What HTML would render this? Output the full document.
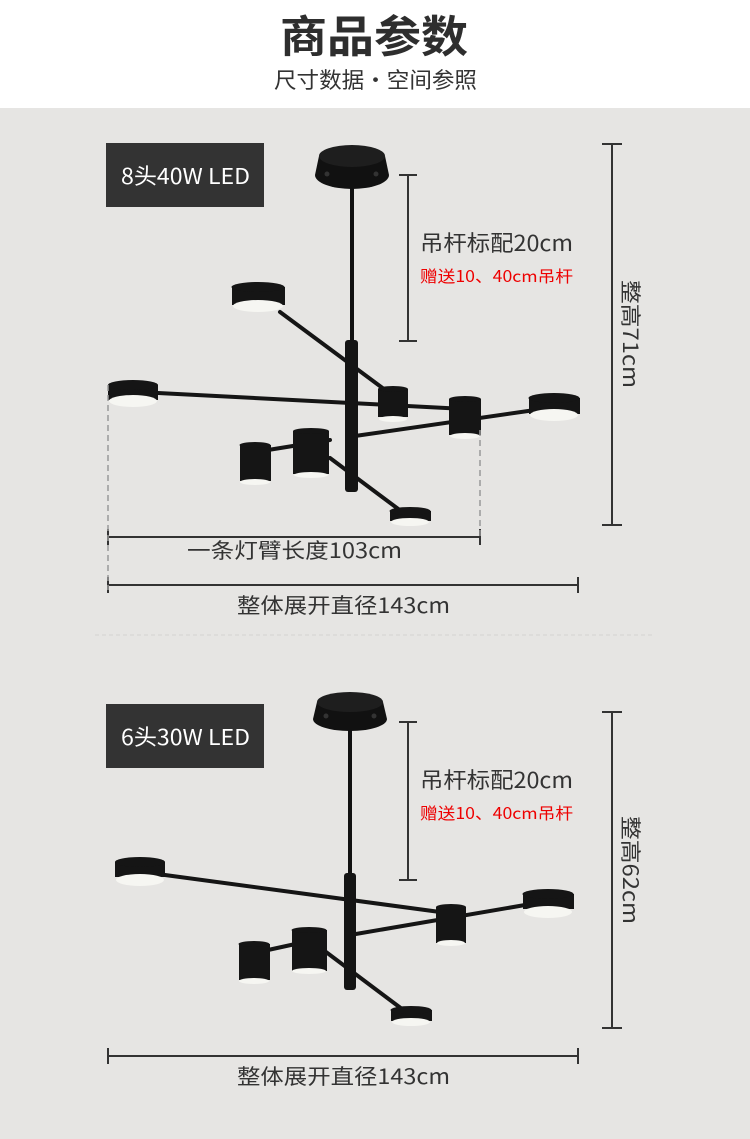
<!DOCTYPE html>
<html><head><meta charset="utf-8"><style>
html,body{margin:0;padding:0}
body{width:750px;height:1139px;background:#e6e5e3;position:relative;overflow:hidden;font-family:"Liberation Sans","Noto Sans CJK SC",sans-serif}
.top{position:absolute;left:0;top:0;width:750px;height:108px;background:#fff}
svg{position:absolute;left:0;top:0}
</style></head><body>
<div class="top"></div>
<svg width="750" height="1139" viewBox="0 0 750 1139">
<text x="280" y="52" textLength="188" lengthAdjust="spacingAndGlyphs" font-size="44" font-weight="bold" fill="#2e2e2e" font-family="Noto Sans CJK SC,sans-serif">商品参数</text>
<text x="274" y="88" textLength="203" lengthAdjust="spacingAndGlyphs" font-size="22" fill="#333" font-family="Noto Sans CJK SC,sans-serif">尺寸数据·空间参照</text>

<!-- ===== Lamp 1 ===== -->
<rect x="106" y="143" width="158" height="64" fill="#333"/>
<text x="121" y="184" textLength="129" lengthAdjust="spacingAndGlyphs" font-size="22" fill="#fff" font-family="Noto Sans CJK SC,sans-serif">8头40W LED</text>
<path d="M319 156 L385 156 L389 175 A37 14 0 0 1 315 175 Z" fill="#111"/>
<ellipse cx="352" cy="156" rx="33" ry="11" fill="#1e1e1e"/>
<circle cx="327" cy="174" r="2.5" fill="#333"/><circle cx="376" cy="174" r="2.5" fill="#333"/>
<rect x="350" y="172" width="4" height="170" fill="#111"/>
<g stroke="#151515" stroke-width="4" stroke-linecap="round">
<line x1="280" y1="312" x2="392" y2="395"/>
<line x1="158" y1="393" x2="465" y2="409"/>
<line x1="355" y1="436" x2="535" y2="410"/>
<line x1="268" y1="450" x2="330" y2="440"/>
<line x1="330" y1="458" x2="405" y2="514"/>
</g>
<rect x="345" y="340" width="13" height="152" rx="3" fill="#141414"/>
<g fill="#151515">
<rect x="232" y="287" width="53" height="18"/><ellipse cx="258" cy="287" rx="26.5" ry="5"/>
<rect x="108" y="385" width="50" height="15"/><ellipse cx="133" cy="385" rx="25" ry="5"/>
<rect x="529" y="398" width="51" height="16"/><ellipse cx="554" cy="398" rx="25.5" ry="5"/>
<rect x="390" y="511" width="41" height="10"/><ellipse cx="410" cy="511" rx="20.5" ry="4"/>
<rect x="378" y="389" width="30" height="28"/><ellipse cx="393" cy="389" rx="15" ry="3"/>
<rect x="449" y="399" width="32" height="36"/><ellipse cx="465" cy="399" rx="16" ry="3"/>
<rect x="293" y="431" width="36" height="43"/><ellipse cx="311" cy="431" rx="18" ry="3"/>
<rect x="240" y="445" width="31" height="36"/><ellipse cx="255" cy="445" rx="15.5" ry="3"/>
</g>
<g fill="#f6f6f2">
<ellipse cx="258" cy="306" rx="25" ry="6"/>
<ellipse cx="133" cy="401" rx="24" ry="6"/>
<ellipse cx="554" cy="415" rx="24" ry="6"/>
<ellipse cx="410" cy="522" rx="19" ry="4"/>
<ellipse cx="393" cy="419" rx="14" ry="3"/>
<ellipse cx="465" cy="436" rx="15" ry="3"/>
<ellipse cx="311" cy="475" rx="17" ry="3"/>
<ellipse cx="255" cy="482" rx="15" ry="3"/>
</g>
<g stroke="#333" stroke-width="2" fill="none">
<line x1="408" y1="175" x2="408" y2="341"/><line x1="399" y1="175" x2="417" y2="175"/><line x1="399" y1="341" x2="417" y2="341"/>
<line x1="612" y1="144" x2="612" y2="525"/><line x1="602" y1="144" x2="622" y2="144"/><line x1="602" y1="525" x2="622" y2="525"/>
<line x1="108" y1="537" x2="480" y2="537"/><line x1="108" y1="529" x2="108" y2="545"/><line x1="480" y1="529" x2="480" y2="545"/>
<line x1="108" y1="585" x2="578" y2="585"/><line x1="108" y1="577" x2="108" y2="593"/><line x1="578" y1="577" x2="578" y2="593"/>
</g>
<g stroke="#999" stroke-width="1.5" stroke-dasharray="6 4">
<line x1="108" y1="385" x2="108" y2="590"/><line x1="480" y1="430" x2="480" y2="540"/>
</g>
<line x1="95" y1="635" x2="655" y2="635" stroke="#d4d4d2" stroke-width="1" stroke-dasharray="4 3"/>
<g font-family="Noto Sans CJK SC,sans-serif">
<text x="420" y="251" textLength="153" lengthAdjust="spacingAndGlyphs" font-size="22" fill="#333">吊杆标配20cm</text>
<text x="420" y="282" textLength="153" lengthAdjust="spacingAndGlyphs" font-size="16" fill="#e00">赠送10、40cm吊杆</text>
<text x="187" y="558" textLength="215" lengthAdjust="spacingAndGlyphs" font-size="21" fill="#333">一条灯臂长度103cm</text>
<text x="237" y="613" textLength="213" lengthAdjust="spacingAndGlyphs" font-size="21" fill="#333">整体展开直径143cm</text>
<text transform="translate(623,280) rotate(90)" textLength="108" lengthAdjust="spacingAndGlyphs" font-size="21" fill="#333">整高71cm</text>
</g>

<!-- ===== Lamp 2 ===== -->
<rect x="106" y="704" width="158" height="64" fill="#333"/>
<text x="121" y="745" textLength="129" lengthAdjust="spacingAndGlyphs" font-size="22" fill="#fff" font-family="Noto Sans CJK SC,sans-serif">6头30W LED</text>
<path d="M317 702 L383 702 L387 719 A37 12 0 0 1 313 719 Z" fill="#111"/>
<ellipse cx="350" cy="702" rx="33" ry="10" fill="#1e1e1e"/>
<circle cx="326" cy="716" r="2.5" fill="#333"/><circle cx="374" cy="716" r="2.5" fill="#333"/>
<rect x="348" y="716" width="4" height="170" fill="#111"/>
<g stroke="#151515" stroke-width="4" stroke-linecap="round">
<line x1="165" y1="875" x2="440" y2="912"/>
<line x1="350" y1="935" x2="525" y2="905"/>
<line x1="268" y1="950" x2="300" y2="943"/>
<line x1="326" y1="952" x2="406" y2="1012"/>
</g>
<rect x="344" y="873" width="12" height="117" rx="3" fill="#141414"/>
<g fill="#151515">
<rect x="115" y="862" width="50" height="15"/><ellipse cx="140" cy="862" rx="25" ry="5"/>
<rect x="523" y="894" width="51" height="15"/><ellipse cx="548" cy="894" rx="25.5" ry="5"/>
<rect x="391" y="1010" width="41" height="11"/><ellipse cx="411" cy="1010" rx="20.5" ry="4"/>
<rect x="436" y="907" width="30" height="36"/><ellipse cx="451" cy="907" rx="15" ry="3"/>
<rect x="292" y="930" width="35" height="41"/><ellipse cx="309" cy="930" rx="17.5" ry="3"/>
<rect x="239" y="944" width="31" height="36"/><ellipse cx="254" cy="944" rx="15.5" ry="3"/>
</g>
<g fill="#f6f6f2">
<ellipse cx="140" cy="880" rx="24" ry="6"/>
<ellipse cx="548" cy="912" rx="24" ry="6"/>
<ellipse cx="411" cy="1022" rx="19" ry="4"/>
<ellipse cx="451" cy="943" rx="14" ry="3"/>
<ellipse cx="309" cy="971" rx="17" ry="3"/>
<ellipse cx="254" cy="981" rx="15" ry="3"/>
</g>
<g stroke="#333" stroke-width="2" fill="none">
<line x1="408" y1="722" x2="408" y2="880"/><line x1="399" y1="722" x2="417" y2="722"/><line x1="399" y1="880" x2="417" y2="880"/>
<line x1="612" y1="712" x2="612" y2="1028"/><line x1="602" y1="712" x2="622" y2="712"/><line x1="602" y1="1028" x2="622" y2="1028"/>
<line x1="108" y1="1056" x2="578" y2="1056"/><line x1="108" y1="1048" x2="108" y2="1064"/><line x1="578" y1="1048" x2="578" y2="1064"/>
</g>
<g font-family="Noto Sans CJK SC,sans-serif">
<text x="420" y="788" textLength="153" lengthAdjust="spacingAndGlyphs" font-size="22" fill="#333">吊杆标配20cm</text>
<text x="420" y="819" textLength="153" lengthAdjust="spacingAndGlyphs" font-size="16" fill="#e00">赠送10、40cm吊杆</text>
<text x="237" y="1084" textLength="213" lengthAdjust="spacingAndGlyphs" font-size="21" fill="#333">整体展开直径143cm</text>
<text transform="translate(623,816) rotate(90)" textLength="108" lengthAdjust="spacingAndGlyphs" font-size="21" fill="#333">整高62cm</text>
</g>
</svg>
</body></html>
